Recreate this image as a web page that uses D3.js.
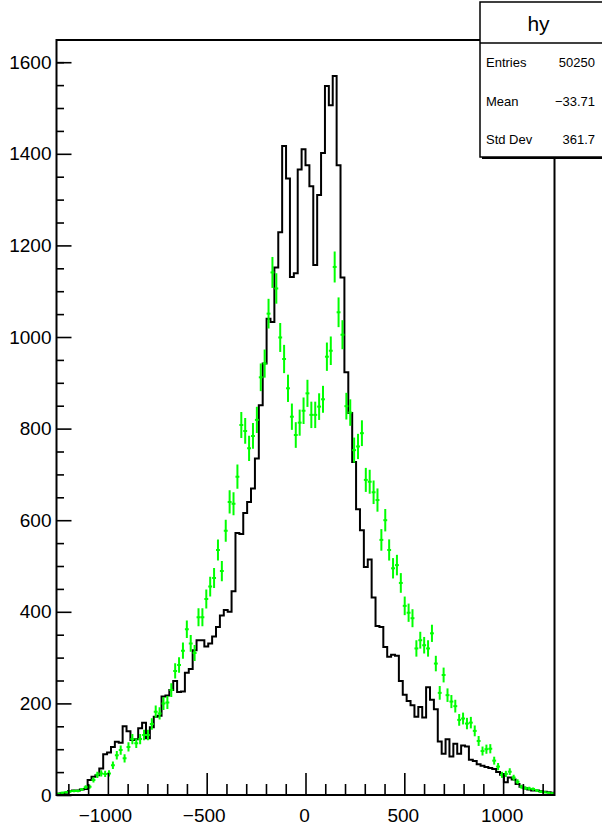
<!DOCTYPE html>
<html>
<head>
<meta charset="utf-8">
<script src="https://cdn.jsdelivr.net/npm/d3@7"></script>
<style>
  html, body { margin: 0; padding: 0; background: #fff; }
  svg { display: block; font-family: "Liberation Sans", Arial, Helvetica, sans-serif; }
</style>
</head>
<body>
<svg id="chart" width="602" height="828"></svg>
<script>
// ---- data ----
const xMin = -1260, xMax = 1260, nBins = 128;

// black histogram "hy" (bin contents, left to right)
const hyCounts = [
  3, 4, 5, 9, 10, 10, 12, 13, 33, 40,
  43, 58, 89, 93, 105, 116, 114, 150, 139, 120,
  122, 146, 158, 124, 148, 171, 173, 215, 217, 229,
  249, 225, 226, 267, 275, 316, 338, 338, 324, 331,
  346, 367, 392, 404, 400, 445, 572, 570, 616, 640,
  669, 735, 851, 942, 1040, 1033, 1152, 1229, 1417, 1346,
  1131, 1139, 1366, 1410, 1375, 1329, 1157, 1310, 1402, 1548,
  1506, 1570, 1375, 1130, 923, 834, 727, 624, 578, 498,
  514, 431, 369, 367, 323, 302, 306, 304, 249, 219,
  205, 196, 171, 192, 169, 235, 208, 187, 117, 90,
  122, 84, 112, 90, 108, 106, 77, 74, 67, 64,
  61, 59, 57, 50, 44, 28, 38, 34, 24, 18,
  15, 12, 10, 10, 8, 7, 6, 5
];

// green histogram drawn with error bars
const greenCounts = [
  3, 5, 6, 8, 9, 9, 12, 17, 18, 33,
  44, 47, 46, 47, 65, 87, 98, 80, 105, 122,
  113, 122, 131, 131, 155, 182, 178, 200, 202, 229,
  271, 284, 315, 362, 331, 310, 388, 388, 428, 455,
  474, 535, 489, 577, 640, 636, 695, 808, 795, 757,
  784, 819, 912, 942, 1051, 1141, 1106, 999, 952, 888,
  826, 786, 813, 839, 877, 830, 830, 848, 864, 957,
  970, 1153, 1054, 1005, 849, 835, 753, 761, 790, 688,
  684, 661, 644, 557, 600, 535, 495, 502, 463, 413,
  398, 386, 320, 338, 327, 320, 353, 287, 223, 262,
  218, 204, 194, 164, 167, 156, 158, 140, 118, 96,
  100, 101, 75, 62, 44, 46, 51, 38, 29, 18,
  15, 14, 13, 10, 7, 6, 5, 4
];

const xMajorTicks = [-1000, -500, 0, 500, 1000];
const xTickLabels = ["\u22121000", "\u2212500", "0", "500", "1000"];
const xMinorTicks = [-1200, -1100, -900, -800, -700, -600, -400, -300, -200, -100,
                      100, 200, 300, 400, 600, 700, 800, 900, 1100, 1200];
const yMajorTicks = [0, 200, 400, 600, 800, 1000, 1200, 1400, 1600];
const yTickLabels = ["0", "200", "400", "600", "800", "1000", "1200", "1400", "1600"];
const yMinorTicks = [50, 100, 150, 250, 300, 350, 450, 500, 550, 650, 700, 750, 850, 900, 950,
                     1050, 1100, 1150, 1250, 1300, 1350, 1450, 1500, 1550, 1600];

const statsTitle = "hy";
const statsNames = ["Entries", "Mean", "Std Dev"];
const statsValues = ["50250", "\u221233.71", "361.7"];

// ---- layout ----
const frame = { left: 56.5, right: 554.5, top: 40, bottom: 795 };
const yMax = d3.max(hyCounts) * 1.05;

const svg = d3.select("#chart");
const x = d3.scaleLinear().domain([xMin, xMax]).range([frame.left, frame.right]);
const y = d3.scaleLinear().domain([0, yMax]).range([frame.bottom, frame.top]);
const binW = (xMax - xMin) / nBins;
const lo = i => xMin + i * binW;

svg.append("defs").append("clipPath").attr("id", "clip")
  .append("rect")
  .attr("x", frame.left).attr("y", frame.top)
  .attr("width", frame.right - frame.left).attr("height", frame.bottom - frame.top);

const plot = svg.append("g").attr("clip-path", "url(#clip)");

// black step histogram
const pts = [[xMin, 0]];
hyCounts.forEach((v, i) => { pts.push([lo(i), v]); pts.push([lo(i + 1), v]); });
pts.push([xMax, 0]);
plot.append("path")
  .attr("d", d3.line().x(d => x(d[0])).y(d => y(d[1]))(pts))
  .attr("fill", "none").attr("stroke", "#000").attr("stroke-width", 2)
  .attr("stroke-linejoin", "miter");

// green error bars
const green = plot.append("g").attr("stroke", "#00ff00").attr("stroke-width", 2);
greenCounts.forEach((v, i) => {
  const c = lo(i) + binW / 2;
  const e = Math.sqrt(v);
  green.append("line")
    .attr("x1", x(c)).attr("x2", x(c))
    .attr("y1", y(v - e)).attr("y2", y(v + e));
  green.append("line")
    .attr("x1", x(lo(i))).attr("x2", x(lo(i + 1)))
    .attr("y1", y(v)).attr("y2", y(v));
});

// axes
function styleAxis(g) {
  g.select(".domain").remove();
  g.selectAll(".tick line").attr("stroke", "#000").attr("stroke-width", 1.6);
  g.selectAll(".tick text").attr("fill", "#000").attr("font-size", 19)
    .attr("font-family", "'Liberation Sans', Arial, sans-serif");
}

const xAxisG = svg.append("g")
  .attr("transform", `translate(0,${frame.bottom})`)
  .call(d3.axisBottom(x).tickValues(xMajorTicks)
    .tickFormat((d, i) => xTickLabels[i]).tickSizeInner(-22).tickSizeOuter(0).tickPadding(13.5))
  .call(styleAxis);
xAxisG.selectAll(".tick text").attr("dx", d => d < 0 ? -3 : -1.5);

svg.append("g")
  .attr("transform", `translate(0,${frame.bottom})`)
  .call(d3.axisBottom(x).tickValues(xMinorTicks).tickFormat(() => "")
    .tickSizeInner(-11).tickSizeOuter(0))
  .call(styleAxis);

svg.append("g")
  .attr("transform", `translate(${frame.left},0)`)
  .call(d3.axisLeft(y).tickValues(yMajorTicks)
    .tickFormat((d, i) => yTickLabels[i]).tickSizeInner(-15).tickSizeOuter(0).tickPadding(5))
  .call(styleAxis);

svg.append("g")
  .attr("transform", `translate(${frame.left},0)`)
  .call(d3.axisLeft(y).tickValues(yMinorTicks).tickFormat(() => "")
    .tickSizeInner(-7.5).tickSizeOuter(0))
  .call(styleAxis);

// frame
svg.append("rect")
  .attr("x", frame.left).attr("y", frame.top)
  .attr("width", frame.right - frame.left).attr("height", frame.bottom - frame.top)
  .attr("fill", "none").attr("stroke", "#000").attr("stroke-width", 2);

// stats box
const sb = { x: 480, y: 2, w: 130, h: 155, titleH: 41 };
const stats = svg.append("g");
stats.append("rect")
  .attr("x", sb.x + 2).attr("y", sb.y + 2).attr("width", sb.w).attr("height", sb.h)
  .attr("fill", "#000");
stats.append("rect")
  .attr("x", sb.x).attr("y", sb.y).attr("width", sb.w).attr("height", sb.h)
  .attr("fill", "#fff").attr("stroke", "#000").attr("stroke-width", 1.5);
stats.append("line")
  .attr("x1", sb.x).attr("x2", sb.x + sb.w)
  .attr("y1", sb.y + sb.titleH).attr("y2", sb.y + sb.titleH)
  .attr("stroke", "#000").attr("stroke-width", 1.5);
stats.append("text")
  .attr("x", 538.5).attr("y", 31)
  .attr("text-anchor", "middle").attr("font-size", 21).attr("fill", "#000")
  .text(statsTitle);
const rowY = [67, 106, 144];
statsNames.forEach((n, i) => {
  stats.append("text").attr("x", 486).attr("y", rowY[i])
    .attr("font-size", 13).attr("fill", "#000").text(n);
  stats.append("text").attr("x", 595).attr("y", rowY[i])
    .attr("text-anchor", "end").attr("font-size", 13).attr("fill", "#000").text(statsValues[i]);
});
</script>
</body>
</html>
